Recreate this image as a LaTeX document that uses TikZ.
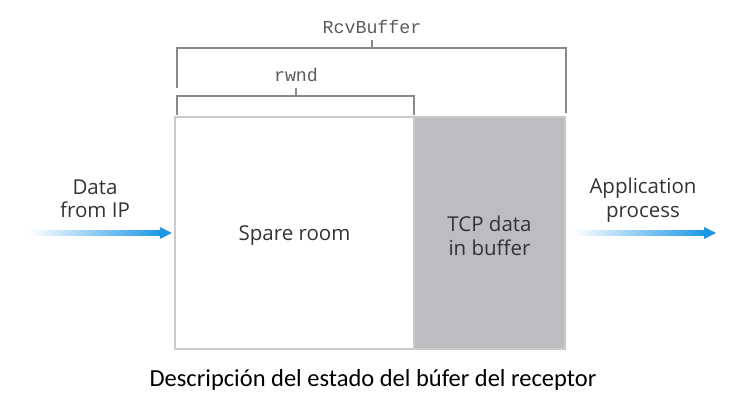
\documentclass[tikz,border=0pt]{standalone}
\usepackage{fontspec}
\setmainfont{Open Sans}
\newfontfamily\capfont{Carlito}
\setmonofont{Liberation Mono}
\usetikzlibrary{arrows.meta,calc}
\definecolor{arrowblue}{HTML}{1E98E6}
\definecolor{boxgray}{HTML}{BDBCC1}
\definecolor{bordergray}{HTML}{CACACA}
\definecolor{brk}{HTML}{8A8A8A}
\definecolor{txt}{HTML}{333333}
\tikzset{
  part/.style={rectangle, inner sep=0pt, minimum height=232pt},
  lbl/.style={align=center, text=txt, font=\fontsize{20.5}{23.5}\selectfont},
  mono/.style={text=txt!80, font=\ttfamily\fontsize{18.3}{20}\selectfont, inner sep=0pt},
  brack/.style={draw=brk, line width=1.4pt},
}
\begin{document}
\begin{tikzpicture}[x=1pt,y=-1pt]
\useasboundingbox (0,0) rectangle (744,409);
% buffer parts
\node[part, minimum width=239pt] (spare) at (294.5,233) {};
\node[part, minimum width=151pt, fill=boxgray] (tcp) at (489.5,233) {};
\draw[bordergray, line width=2.5pt] (spare.north west) rectangle (tcp.south east);
\draw[bordergray, line width=2.5pt] (spare.north east) -- (spare.south east);
\node[lbl] (sparetxt) at ($(spare.center)+(0,3)$) {Spare room};
\node[lbl] (tcptxt) at ($(tcp.center)+(0,3)$) {TCP data\\in buffer};
% brackets
\coordinate (rbL) at (177,48);
\coordinate (rbR) at (566,48);
\draw[brack] ($(rbL)+(0,40)$) -- (rbL) -- (rbR) -- ($(rbR)+(0,65)$);
\draw[brack] (372,48) -- (372,40);
\node[mono] (rcv) at (372,27) {RcvBuffer};
\coordinate (rwL) at (177,96);
\coordinate (rwR) at (414,96);
\draw[brack] ($(rwL)+(0,19)$) -- (rwL) -- (rwR) -- ($(rwR)+(0,19)$);
\draw[brack] (296,96) -- (296,88);
\node[mono] (rwnd) at (296,75) {rwnd};
% input arrow
\coordinate (inS) at (28,233);
\shade[left color=white, right color=arrowblue] ($(inS)+(0,-2.5)$) rectangle ($(spare.west)+(-14,2.5)$);
\fill[arrowblue] ($(spare.west)+(-15,-6)$) -- ($(spare.west)+(-3,0)$) -- ($(spare.west)+(-15,6)$) -- cycle;
\node[lbl] (din) at (95,199) {Data\\from IP};
% output arrow
\coordinate (outE) at (716,233);
\shade[left color=white, right color=arrowblue] ($(tcp.east)+(7,-2.5)$) rectangle ($(outE)+(-11,2.5)$);
\fill[arrowblue] ($(outE)+(-12,-6)$) -- (outE) -- ($(outE)+(-12,6)$) -- cycle;
\node[lbl] (app) at (643,200) {Application\\process};
% caption
\node[text=black, font=\capfont\fontsize{24.5}{28}\selectfont] (cap) at (373,380) {Descripción del estado del búfer del receptor};
\end{tikzpicture}
\end{document}
